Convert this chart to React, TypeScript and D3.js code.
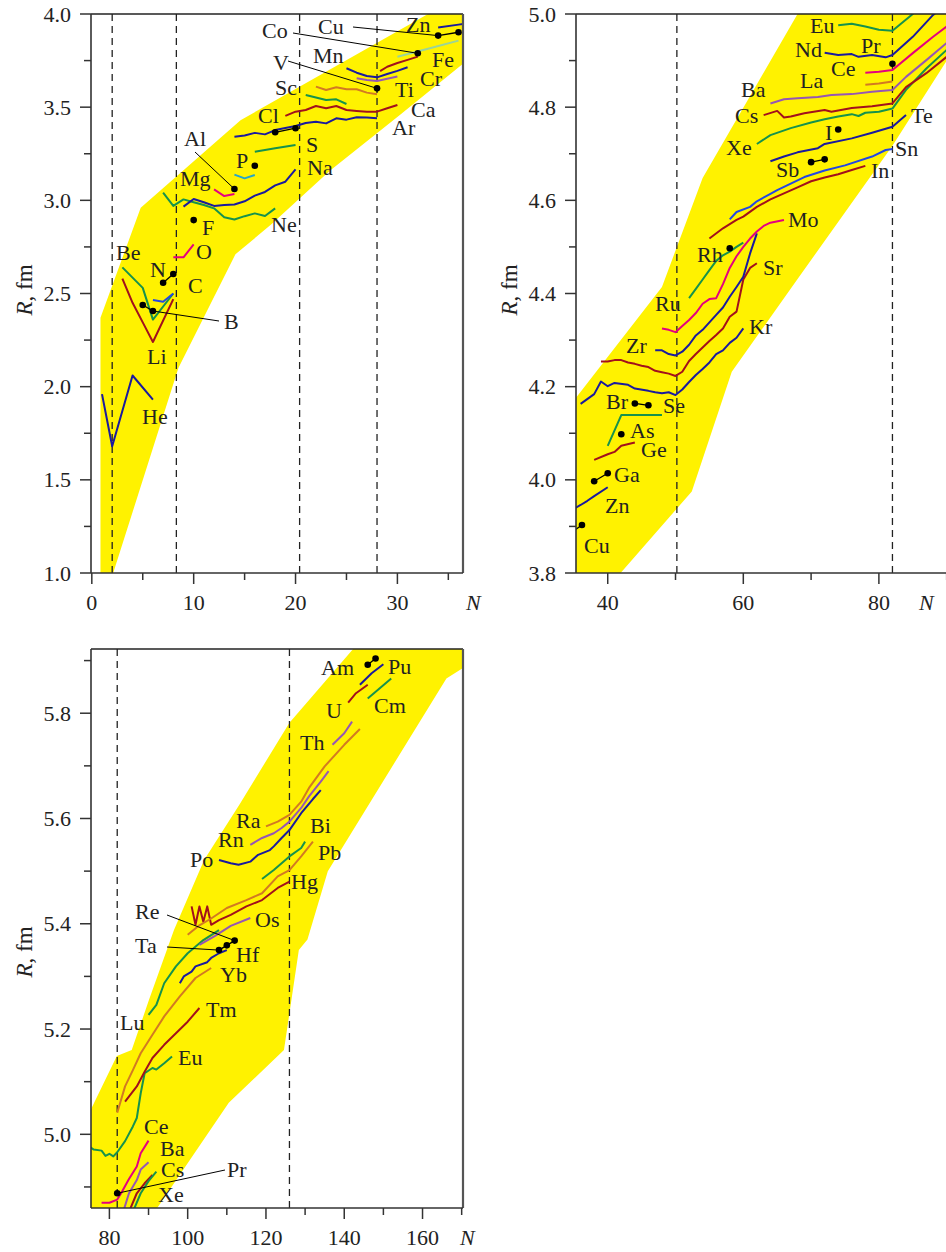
import React from "react";
import * as d3 from "d3";

type P = [number, number];

const FONT = "'Liberation Serif','Times New Roman',serif";
const YELLOW = "#fff200";
const BLUE = "#1a1a9e";
const BLUE2 = "#2347e4";
const RED = "#a2101c";
const GREEN = "#16924c";
const MAGENTA = "#e4007f";
const PURPLE = "#9656b4";
const ORANGE = "#d27a22";
const CYAN = "#26a5c9";
const LGREEN = "#9ad49a";

// ---------------- Panel 1 data (N, R fm) ----------------
const p1Band: P[] = [[0.85,1.0],[0.85,2.37],[4.8,2.96],[14.6,3.43],[33,4.0],[36.6,4.0],[36.6,3.74],[30.3,3.46],[23.4,3.16],[17.6,2.87],[14.1,2.71],[8.5,2.1],[2.1,1.0]];
const p1Magic = [2, 8.3, 20.4, 28];
const p1He: P[] = [[1,1.96],[2,1.68],[4,2.06],[6,1.93]];
const p1Li: P[] = [[3,2.58],[4,2.45],[5,2.345],[6,2.24],[8,2.47]];
const p1Be: P[] = [[3,2.64],[5,2.53],[6,2.36],[8,2.5]];
const p1C: P[] = [[6,2.465],[7,2.456],[8,2.5]];
const p1O: P[] = [[8,2.694],[9,2.694],[10,2.764]];
const p1Ne: P[] = [[7,3.041],[8,2.97],[9,3.005],[10,2.99],[11,2.975],[12,2.957],[13,2.909],[14,2.897],[15,2.915],[16,2.93],[17,2.916],[18,2.957]];
const p1Na: P[] = [[9,2.966],[10,3.007],[11,2.99],[12,2.97],[13,2.975],[14,2.978],[15,2.995],[16,3.025],[17,3.045],[18,3.08],[19,3.1],[20,3.166]];
const p1Mg: P[] = [[12,3.059],[13,3.023],[14,3.034]];
const p1Si: P[] = [[14,3.138],[15,3.118],[16,3.136]];
const p1S: P[] = [[16,3.261],[18,3.28],[20,3.297]];
const p1Ar: P[] = [[14,3.341],[15,3.348],[16,3.362],[17,3.354],[18,3.377],[19,3.388],[20,3.399],[21,3.415],[22,3.422],[23,3.413],[24,3.44],[25,3.433],[26,3.446],[27,3.444],[28,3.44]];
const p1Ca: P[] = [[19,3.453],[20,3.476],[21,3.485],[22,3.506],[23,3.494],[24,3.506],[25,3.485],[26,3.48],[27,3.476],[28,3.476],[29,3.494],[30,3.512]];
const p1K: P[] = [[21,3.565],[22,3.552],[23,3.538],[24,3.542],[25,3.517]];
const p1Ti: P[] = [[22,3.61],[23,3.592],[24,3.607],[25,3.596],[26,3.596],[27,3.578],[28,3.569]];
const p1Cr: P[] = [[26,3.655],[27,3.646],[28,3.64],[29,3.652],[30,3.665]];
const p1Mn: P[] = [[25,3.709],[26,3.685],[27,3.667],[28,3.66],[29,3.678],[30,3.695],[31,3.714]];
const p1Fe: P[] = [[28.3,3.693],[29,3.717],[30,3.737],[31,3.754],[32,3.771]];
const p1Ni: P[] = [[30,3.771],[33,3.814],[36,3.857]];
const p1Zn: P[] = [[34,3.928],[36,3.943],[38,3.956]];
const p1BDots: P[] = [[5,2.438],[6,2.406]];
const p1NDots: P[] = [[7,2.558],[8,2.605]];
const p1FDot: P[] = [[10,2.894]];
const p1AlDot: P[] = [[14,3.061]];
const p1PDot: P[] = [[16,3.186]];
const p1SDots: P[] = [[18,3.365],[20,3.387]];
const p1VDot: P[] = [[28,3.601]];
const p1CoDot: P[] = [[32,3.789]];
const p1CuDots: P[] = [[34,3.884],[36,3.902]];

// ---------------- Panel 2 data ----------------
const p2Band: P[] = [[35.3,3.79],[35.3,4.176],[48,4.414],[54,4.648],[68.4,5.01],[90,5.01],[90,4.9],[82,4.717],[67.9,4.429],[58.3,4.232],[52.4,3.975],[41.3,3.79]];
const p2Magic = [50.2, 82];
const p2CuDots: P[] = [[34,3.88],[36.2,3.903]];
const p2Zn: P[] = [[34,3.93],[36,3.946],[37,3.955],[38,3.965],[40,3.984]];
const p2GaDots: P[] = [[38,3.997],[40,4.014]];
const p2Ge: P[] = [[38,4.043],[40,4.055],[41,4.06],[42,4.073],[44,4.08]];
const p2AsDot: P[] = [[42,4.098]];
const p2Se: P[] = [[40,4.073],[42,4.139],[48,4.139]];
const p2BrDots: P[] = [[44,4.164],[46,4.16]];
const p2Kr: P[] = [[36,4.163],[38,4.184],[39,4.211],[40,4.201],[41,4.208],[43,4.204],[44,4.196],[46,4.191],[47,4.188],[48,4.186],[49,4.188],[50,4.182],[51,4.194],[52,4.21],[53,4.225],[54,4.238],[55,4.252],[56,4.27],[57,4.278],[58,4.294],[59,4.305],[60,4.325]];
const p2Sr: P[] = [[39,4.254],[40,4.254],[41,4.257],[42,4.257],[43,4.252],[44,4.249],[45,4.245],[46,4.242],[47,4.234],[48,4.231],[49,4.228],[50,4.223],[51,4.232],[52,4.255],[53,4.27],[54,4.284],[55,4.298],[56,4.311],[57,4.325],[58,4.35],[59,4.361],[60,4.43],[61,4.455],[62,4.465]];
const p2Zr: P[] = [[47,4.278],[48,4.278],[49,4.27],[50,4.267],[51,4.275],[52,4.29],[53,4.31],[54,4.322],[55,4.338],[56,4.354],[57,4.37],[58,4.393],[59,4.414],[60,4.436],[61,4.486],[62,4.529]];
const p2Mo: P[] = [[48,4.325],[49,4.322],[50,4.317],[51,4.33],[52,4.343],[53,4.358],[54,4.378],[55,4.388],[56,4.39],[57,4.42],[58,4.455],[59,4.48],[60,4.5],[61,4.518],[62,4.533],[63,4.545],[64,4.552],[66,4.558]];
const p2Pd: P[] = [[52,4.39],[53,4.41],[54,4.43],[55,4.45],[56,4.47],[57,4.482],[58,4.49],[59,4.5],[60,4.509]];
const p2RhDot: P[] = [[58,4.497]];
const p2In: P[] = [[55,4.518],[57,4.54],[59,4.558],[60,4.565],[62,4.586],[64,4.602],[66,4.615],[68,4.628],[70,4.641],[72,4.649],[74,4.656],[76,4.665],[78,4.674]];
const p2Sn: P[] = [[58,4.559],[59,4.575],[61,4.586],[62,4.598],[64,4.614],[65,4.622],[67,4.636],[69,4.65],[72,4.664],[75,4.675],[79,4.694],[81,4.708],[82,4.71]];
const p2SbDots: P[] = [[70,4.682],[72,4.688]];
const p2Te: P[] = [[64,4.684],[66,4.694],[68,4.703],[71,4.712],[72,4.721],[76,4.733],[79,4.745],[82,4.758],[84,4.783]];
const p2IDot: P[] = [[74,4.752]];
const p2Xe: P[] = [[62,4.721],[64,4.74],[67,4.755],[70,4.767],[72,4.774],[74,4.78],[76,4.785],[77,4.781],[78,4.788],[80,4.79],[82,4.797],[84,4.837],[87,4.883],[90,4.923]];
const p2Cs: P[] = [[63,4.783],[65,4.792],[66,4.778],[67,4.78],[69,4.787],[72,4.794],[73,4.79],[76,4.798],[79,4.802],[82,4.808],[84,4.843],[87,4.873],[90,4.908]];
const p2Ba: P[] = [[64,4.808],[66,4.817],[68,4.819],[71,4.822],[73,4.826],[76,4.828],[79,4.833],[82,4.837],[84,4.865],[87,4.901],[90,4.938]];
const p2La: P[] = [[78,4.848],[80,4.851],[82,4.855]];
const p2Ce: P[] = [[78,4.874],[80,4.876],[82,4.88],[85,4.916],[88,4.951],[90,4.973]];
const p2PrDot: P[] = [[82,4.893]];
const p2Nd: P[] = [[72,4.917],[74,4.912],[76,4.914],[77,4.908],[79,4.912],[81,4.907],[82,4.912],[85,4.951],[88,4.998],[89,5.01]];
const p2Eu: P[] = [[74,4.976],[76,4.979],[78,4.973],[80,4.966],[81,4.965],[82,4.964],[85,5.0],[86,5.02]];

// ---------------- Panel 3 data ----------------
const p3Band: P[] = [[75,4.85],[75,5.043],[81.9,5.149],[85.7,5.16],[90.1,5.255],[96.5,5.388],[104.2,5.521],[113.2,5.626],[126,5.782],[143.2,5.93],[171,5.93],[171,5.889],[166.1,5.866],[135.8,5.5],[130.6,5.37],[128.4,5.35],[124.6,5.16],[110.5,5.06],[91.3,4.85]];
const p3Magic = [82, 126];
const p3Eu: P[] = [[75,4.976],[76,4.971],[78,4.969],[79,4.959],[80,4.963],[81,4.958],[82,4.966],[84,4.987],[86,5.015],[87,5.031],[88,5.078],[89,5.116],[91,5.126],[92,5.123],[94,5.135],[96,5.148]];
const p3Tm: P[] = [[84,5.062],[87,5.091],[89,5.119],[91,5.145],[94,5.17],[97,5.192],[100,5.214],[103,5.24]];
const p3Yb: P[] = [[82,5.041],[84,5.091],[86,5.122],[88,5.154],[91,5.189],[94,5.224],[98,5.262],[102,5.297],[106,5.316]];
const p3Lu: P[] = [[90,5.227],[92,5.246],[94,5.287],[97,5.319],[100,5.344],[104,5.369],[108,5.388]];
const p3Hf: P[] = [[98,5.287],[99,5.3],[101,5.309],[102,5.319],[105,5.327],[106,5.335],[108,5.344],[110,5.35]];
const p3TaDots: P[] = [[108,5.35],[110,5.359],[112,5.368]];
const p3Hg: P[] = [[101,5.433],[102,5.398],[103,5.433],[104,5.404],[105,5.433],[106,5.398],[108,5.407],[111,5.417],[115,5.433],[119,5.445],[123,5.468],[126,5.48]];
const p3Pb: P[] = [[100,5.379],[103,5.397],[106,5.41],[110,5.43],[115,5.445],[119,5.458],[123,5.49],[126,5.502],[129,5.528],[132,5.556]];
const p3Bi: P[] = [[119,5.485],[122,5.502],[124,5.515],[126,5.528],[129,5.544],[130,5.556]];
const p3Os: P[] = [[103,5.36],[107,5.377],[111,5.396],[116,5.411]];
const p3Po: P[] = [[108,5.521],[111,5.515],[113,5.512],[116,5.518],[118,5.531],[121,5.54],[122,5.547],[124,5.563],[126,5.578],[129,5.61],[132,5.637],[134,5.654]];
const p3Rn: P[] = [[116,5.55],[119,5.563],[122,5.572],[124,5.582],[126,5.594],[129,5.62],[131,5.642],[134,5.67],[136,5.69]];
const p3Ra: P[] = [[120,5.585],[123,5.594],[126,5.607],[129,5.632],[131,5.658],[135,5.699],[140,5.74],[144,5.77]];
const p3Th: P[] = [[137,5.74],[140,5.762],[142,5.784]];
const p3U: P[] = [[141,5.82],[143,5.838],[146,5.854]];
const p3Pu: P[] = [[144,5.854],[147,5.876],[150,5.893]];
const p3AmDots: P[] = [[146,5.892],[148,5.904]];
const p3Cm: P[] = [[146,5.828],[152,5.866]];
const p3Ce: P[] = [[78,4.87],[80,4.87],[82,4.876],[83,4.888],[85,4.915],[87,4.939],[88,4.964],[90,4.988]];
const p3PrDot: P[] = [[82,4.888]];
const p3Ba: P[] = [[83,4.84],[85,4.888],[87,4.913],[88,4.933],[90,4.947]];
const p3Cs: P[] = [[84,4.835],[87,4.888],[89,4.907],[91,4.923]];
const p3Xe: P[] = [[85,4.835],[88,4.888],[90,4.911],[92,4.929]];

// ---------------- Labels (text, left px, baseline px) ----------------
type Lab = [string, number, number];
const p1Labels: Lab[] = [
  ["He",142,424],["Li",147,364],["B",224,329],["C",188,293],["N",150,277],["Be",116,260],["O",196,259],["F",202,235],
  ["Mg",180,186],["Al",184,146],["P",236,168],["Na",307,175],["Ne",271,232],["S",306,152],["Ar",392,135],["Ca",411,117],
  ["Cl",258,123],["Sc",275,95],["Ti",395,97],["V",273,70],["Cr",420,86],["Mn",313,63],["Fe",432,67],["Co",262,38],["Cu",318,34],["Zn",406,32],
];
const p2Labels: Lab[] = [
  ["Eu",810,33],["Nd",795,57],["Pr",861,53],["Ce",831,76],["La",800,88],["Ba",741,97],["Cs",735,123],["Te",911,123],["I",825,140],
  ["Xe",726,155],["Sn",895,156],["Sb",776,177],["In",871,178],["Mo",788,227],["Rh",697,262],["Sr",763,275],["Kr",749,334],
  ["Ru",655,311],["Zr",626,353],["Br",606,409],["Se",663,413],["As",630,438],["Ge",641,457],["Ga",614,482],["Zn",605,513],["Cu",584,553],
];
const p3Labels: Lab[] = [
  ["Am",321,675],["Pu",388,674],["Cm",374,713],["U",326,718],["Th",300,750],["Ra",236,828],["Bi",310,833],["Rn",218,847],
  ["Po",190,867],["Pb",318,860],["Hg",291,889],["Re",135,919],["Os",255,927],["Ta",135,953],["Hf",236,962],["Yb",220,982],
  ["Tm",206,1017],["Lu",120,1030],["Eu",178,1065],["Ce",144,1134],["Ba",160,1156],["Cs",161,1177],["Pr",227,1177],["Xe",158,1202],
];

interface Series { pts: P[]; color: string; w?: number }
interface Leader { from: [number, number]; to: P }
interface Cfg {
  id: string; left: number; right: number; top: number; bottom: number;
  xDomain: [number, number]; yDomain: [number, number];
  band: P[]; magic: number[]; series: Series[]; dots: P[][]; leaders: Leader[]; labels: Lab[];
  xt: { start: number; stop: number; step: number; every: number };
  yt: { start: number; stop: number; step: number; every: number };
  rightBorder: boolean; nX: number; titleY: number;
}

const panels: Cfg[] = [
  {
    id: "a", left: 91, right: 463, top: 14, bottom: 573, xDomain: [-0.08, 36.44], yDomain: [1.0, 4.0],
    band: p1Band, magic: p1Magic,
    series: [
      { pts: p1He, color: BLUE }, { pts: p1Li, color: RED }, { pts: p1Be, color: GREEN }, { pts: p1C, color: BLUE2 },
      { pts: p1O, color: MAGENTA }, { pts: p1Ne, color: GREEN }, { pts: p1Na, color: BLUE }, { pts: p1Mg, color: MAGENTA },
      { pts: p1Si, color: CYAN }, { pts: p1S, color: GREEN }, { pts: p1Ar, color: BLUE }, { pts: p1Ca, color: RED },
      { pts: p1K, color: GREEN }, { pts: p1Ti, color: ORANGE }, { pts: p1Cr, color: PURPLE }, { pts: p1Mn, color: BLUE },
      { pts: p1Fe, color: RED }, { pts: p1Ni, color: LGREEN }, { pts: p1Zn, color: BLUE },
    ],
    dots: [p1BDots, p1NDots, p1FDot, p1AlDot, p1PDot, p1SDots, p1VDot, p1CoDot, p1CuDots],
    leaders: [
      { from: [219, 321], to: p1BDots[1] }, { from: [195, 152], to: p1AlDot[0] }, { from: [288, 61], to: p1VDot[0] },
      { from: [293, 33], to: p1CoDot[0] }, { from: [353, 27], to: p1CuDots[0] },
    ],
    labels: p1Labels,
    xt: { start: 0, stop: 35, step: 5, every: 10 }, yt: { start: 1.0, stop: 4.0, step: 0.25, every: 0.5 },
    rightBorder: true, nX: 466, titleY: 290,
  },
  {
    id: "b", left: 576, right: 946, top: 14, bottom: 573, xDomain: [35.32, 89.9], yDomain: [3.8, 5.0],
    band: p2Band, magic: p2Magic,
    series: [
      { pts: p2Zn, color: BLUE }, { pts: p2Ge, color: RED }, { pts: p2Se, color: GREEN }, { pts: p2Kr, color: BLUE },
      { pts: p2Sr, color: RED }, { pts: p2Zr, color: BLUE }, { pts: p2Mo, color: MAGENTA }, { pts: p2Pd, color: GREEN },
      { pts: p2In, color: RED }, { pts: p2Sn, color: BLUE2 }, { pts: p2Te, color: BLUE }, { pts: p2Xe, color: GREEN },
      { pts: p2Cs, color: RED }, { pts: p2Ba, color: PURPLE }, { pts: p2La, color: ORANGE }, { pts: p2Ce, color: MAGENTA },
      { pts: p2Nd, color: BLUE }, { pts: p2Eu, color: GREEN },
    ],
    dots: [p2CuDots, p2GaDots, p2AsDot, p2BrDots, p2RhDot, p2SbDots, p2IDot, p2PrDot],
    leaders: [],
    labels: p2Labels,
    xt: { start: 40, stop: 90, step: 10, every: 20 }, yt: { start: 3.8, stop: 5.0, step: 0.1, every: 0.2 },
    rightBorder: false, nX: 919, titleY: 290,
  },
  {
    id: "c", left: 91, right: 463, top: 649, bottom: 1208, xDomain: [75.3, 170.34], yDomain: [4.86, 5.922],
    band: p3Band, magic: p3Magic,
    series: [
      { pts: p3Eu, color: GREEN }, { pts: p3Tm, color: RED }, { pts: p3Yb, color: ORANGE }, { pts: p3Lu, color: GREEN },
      { pts: p3Hf, color: BLUE }, { pts: p3Hg, color: RED }, { pts: p3Pb, color: ORANGE }, { pts: p3Bi, color: GREEN },
      { pts: p3Os, color: PURPLE }, { pts: p3Po, color: BLUE }, { pts: p3Rn, color: PURPLE }, { pts: p3Ra, color: ORANGE },
      { pts: p3Th, color: PURPLE }, { pts: p3U, color: RED }, { pts: p3Pu, color: BLUE }, { pts: p3Cm, color: GREEN },
      { pts: p3Ce, color: MAGENTA }, { pts: p3Ba, color: PURPLE }, { pts: p3Cs, color: RED }, { pts: p3Xe, color: GREEN },
    ],
    dots: [p3TaDots, p3AmDots, p3PrDot],
    leaders: [
      { from: [167, 915], to: p3TaDots[2] }, { from: [167, 947], to: p3TaDots[0] }, { from: [225, 1170], to: p3PrDot[0] },
    ],
    labels: p3Labels,
    xt: { start: 80, stop: 170, step: 10, every: 20 }, yt: { start: 4.9, stop: 5.9, step: 0.1, every: 0.2 },
    rightBorder: true, nX: 460, titleY: 952,
  },
];

function ticks(t: { start: number; stop: number; step: number; every: number }) {
  const n = Math.round((t.stop - t.start) / t.step);
  return d3.range(n + 1).map((i) => {
    const v = Math.round((t.start + i * t.step) * 1e6) / 1e6;
    const q = v / t.every;
    return { v, major: Math.abs(q - Math.round(q)) < 1e-6 };
  });
}

function Panel({ c }: { c: Cfg }) {
  const x = d3.scaleLinear().domain(c.xDomain).range([c.left, c.right]);
  const y = d3.scaleLinear().domain(c.yDomain).range([c.bottom, c.top]);
  const line = d3.line<P>().x((d) => x(d[0])).y((d) => y(d[1]));
  const clip = `clip-${c.id}`;
  const fs = 22;
  return (
    <g>
      <defs>
        <clipPath id={clip}>
          <rect x={c.left} y={c.top} width={c.right - c.left} height={c.bottom - c.top} />
        </clipPath>
      </defs>
      <g clipPath={`url(#${clip})`}>
        <path d={(line(c.band) || "") + "Z"} fill={YELLOW} />
        {c.magic.map((m, i) => (
          <line key={i} x1={x(m)} x2={x(m)} y1={c.top} y2={c.bottom} stroke="#222" strokeWidth={1.3} strokeDasharray="7,5" />
        ))}
        {c.series.map((s, i) => (
          <path key={i} d={line(s.pts) || ""} fill="none" stroke={s.color} strokeWidth={s.w ?? 2} strokeLinejoin="round" />
        ))}
        {c.dots.map((g, i) => (
          <g key={i}>
            {g.length > 1 && <path d={line(g) || ""} fill="none" stroke="#000" strokeWidth={1.3} />}
            {g.map((p, j) => <circle key={j} cx={x(p[0])} cy={y(p[1])} r={3.3} fill="#000" />)}
          </g>
        ))}
      </g>
      {c.leaders.map((l, i) => (
        <line key={i} x1={l.from[0]} y1={l.from[1]} x2={x(l.to[0])} y2={y(l.to[1])} stroke="#000" strokeWidth={1} />
      ))}
      {c.labels.map((l, i) => (
        <text key={i} x={l[1]} y={l[2]} fontFamily={FONT} fontSize={fs} fill="#222">{l[0]}</text>
      ))}
      {/* frame */}
      <line x1={c.left} x2={c.right} y1={c.top} y2={c.top} stroke="#222" strokeWidth={1.5} />
      {c.rightBorder && <line x1={c.right} x2={c.right} y1={c.top} y2={c.bottom} stroke="#555" strokeWidth={2.2} />}
      <line x1={c.left} x2={c.left} y1={c.top} y2={c.bottom} stroke="#333" strokeWidth={1.6} />
      <line x1={c.left} x2={c.right} y1={c.bottom} y2={c.bottom} stroke="#333" strokeWidth={1.6} />
      {ticks(c.xt).map((t, i) => (
        <g key={i}>
          <line x1={x(t.v)} x2={x(t.v)} y1={c.bottom} y2={c.bottom + (t.major ? 11 : 7)} stroke="#333" strokeWidth={1.5} />
          {t.major && (
            <text x={x(t.v)} y={c.bottom + 37} textAnchor="middle" fontFamily={FONT} fontSize={22} fill="#222">{t.v}</text>
          )}
        </g>
      ))}
      {ticks(c.yt).map((t, i) => (
        <g key={i}>
          <line x1={c.left - (t.major ? 11 : 7)} x2={c.left} y1={y(t.v)} y2={y(t.v)} stroke="#333" strokeWidth={1.5} />
          {t.major && (
            <text x={c.left - 20} y={y(t.v) + 7.5} textAnchor="end" fontFamily={FONT} fontSize={22} fill="#222">{t.v.toFixed(1)}</text>
          )}
        </g>
      ))}
      <text x={c.nX} y={c.bottom + 37} fontFamily={FONT} fontSize={22} fontStyle="italic" fill="#222">N</text>
      <text transform={`translate(${c.left - 59},${c.titleY}) rotate(-90)`} textAnchor="middle" fontFamily={FONT} fontSize={23} fill="#222">
        <tspan fontStyle="italic">R</tspan>, fm
      </text>
    </g>
  );
}

export default function App() {
  return (
    <svg width={946} height={1252} style={{ position: "absolute", left: 0, top: 0, background: "#fff" }}>
      <rect width={946} height={1252} fill="#fff" />
      {panels.map((c) => <Panel key={c.id} c={c} />)}
    </svg>
  );
}
